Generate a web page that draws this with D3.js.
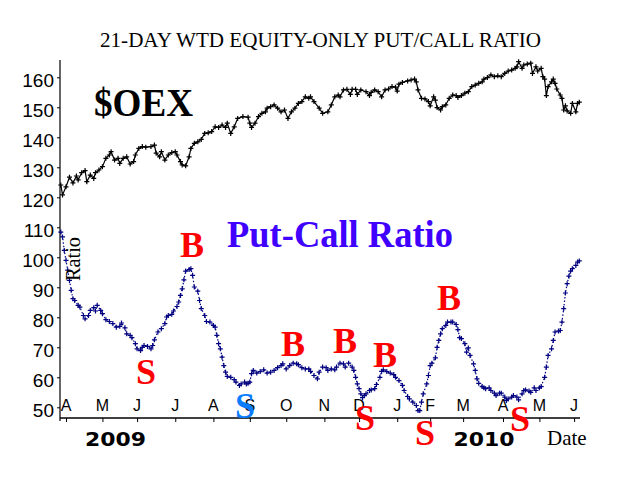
<!DOCTYPE html>
<html>
<head>
<meta charset="utf-8">
<script src="https://cdn.jsdelivr.net/npm/d3@7"></script>
<style>
  html, body { margin: 0; padding: 0; background: #fff; }
  svg { display: block; }
</style>
</head>
<body>
<svg id="chart" width="640" height="480"></svg>
<script>
// ---------- DATA ----------
const monthTickDays = [3, 24, 44, 66, 88, 109, 130, 152, 172, 194, 213, 232, 255, 276, 296];
const monthLabels = ["A", "M", "J", "J", "A", "S", "O", "N", "D", "J", "F", "M", "A", "M", "J"];
const yTickValues = [50, 60, 70, 80, 90, 100, 110, 120, 130, 140, 150, 160];

const oexDays = [0,1,3,5,7,9,10,12,14,15,17,19,20,22,24,26,28,29,31,33,34,36,38,40,42,43,45,47,49,52,54,55,57,58,60,62,64,66,67,69,70,72,74,75,77,79,81,83,85,87,89,91,93,95,96,98,100,102,105,108,109,110,112,114,116,118,119,121,123,125,127,129,131,133,135,137,139,141,143,144,146,149,151,154,156,158,160,161,163,165,167,168,170,171,173,176,178,179,181,183,185,187,189,191,193,194,195,197,200,202,204,205,206,208,210,212,213,215,216,217,219,220,222,224,226,228,229,231,233,235,237,239,241,243,244,246,248,250,252,254,256,258,260,262,263,264,266,267,269,271,272,274,275,277,278,279,280,281,283,284,285,286,288,289,290,291,292,294,295,297,298,299];
const oexValues = [124.1,120.8,123.5,126.7,124.8,127.1,125.8,128.2,128.9,125.2,127.4,126.3,128.2,129.1,130.2,133,134.1,135.2,132.4,133,131.3,133,133.5,131.1,131.9,134.1,136.3,136.9,136.7,136.9,137.4,134.7,133.5,135.2,132.4,134.1,134.9,135.2,134.1,131.9,130.8,130.5,133.5,136.3,138,138.5,139.3,141.3,141.5,141.9,143.5,143.3,144.1,143.3,144.7,141.3,143.5,146.3,146.9,146.7,144.7,143.3,144.7,146.9,148,148.5,149.7,150.2,150.8,149.7,148.5,149.1,146.3,148.5,149.7,151.3,151.9,153.5,153,153.5,151.9,149.7,148,148.5,150.8,153.5,154.1,153.5,155.8,156,154.3,156,156,154.3,155.8,155.2,153.9,155,155.8,155.2,153.5,155.8,156.1,156.9,156.7,155.4,157.7,158.3,158.8,159.1,159.4,158.5,155.8,153,152.8,151.9,150.5,153.5,152.4,149.9,149.1,150.2,150.8,153,154.1,153.9,153.3,153.9,154.7,155.2,156.9,157.4,158,158.5,159.4,159.9,160.8,160.2,160.5,160.2,161.3,162.1,162.4,163,163.5,165.2,163,164.1,164.4,164.7,161.3,163.5,162.1,163,160.2,159.4,153.9,156.9,158.5,159.4,158,156.1,154.1,153,149.1,150.5,148.8,148,151.3,148.5,151.3,151.7];

const pcDays = [0,1,2,3,4,5,6,7,8,10,11,13,14,16,17,19,20,21,23,24,26,28,30,32,34,35,37,38,40,41,43,44,46,47,48,50,52,53,54,56,58,60,61,62,64,65,67,68,69,70,71,72,74,75,76,77,79,80,81,83,84,86,88,89,90,91,92,93,94,95,96,98,100,101,103,104,106,107,108,109,110,111,113,115,117,119,121,123,125,127,128,130,132,134,136,137,139,141,143,144,146,148,149,151,153,154,156,158,159,161,163,164,166,168,169,170,171,172,173,174,175,176,178,179,181,182,184,185,186,188,190,192,193,195,197,198,200,201,203,205,206,207,208,209,211,212,213,214,216,217,218,219,220,222,223,225,226,228,229,230,231,233,234,235,236,238,239,240,241,243,244,245,247,248,250,251,253,254,256,257,258,260,261,263,264,266,267,268,270,271,273,274,276,277,279,280,281,283,284,285,287,288,289,290,291,292,293,294,295,297,298,299];
const pcValues = [108.4,106.8,102.3,99,95.7,92.3,89,86.2,85.6,84,83.4,80.6,79.5,80.6,82.3,83.2,82.1,84,82.3,81.2,79.2,78.6,77.9,76.7,77,78.1,76.5,74.5,74,73.2,71.2,69.5,68.9,70,70.6,70.3,69.5,70.6,72.5,75.1,76.2,77.9,80.1,80.6,81,82.1,83.6,85.1,87.3,89.5,92.5,95.4,95.9,96.2,94,90.1,88.7,85.6,82.9,80.6,78.6,78.4,77.3,76.7,74,71.2,69.5,66.7,63.9,61.7,60.3,60,59.2,58.4,57.3,57.8,58.4,57.8,58,58.4,61.2,62.3,61.4,61.9,62.5,61.4,61.7,62.3,63.2,63.9,64.5,62.8,63.9,64.7,64.5,64.2,63.2,62.8,62.8,62,60.6,59.5,61.7,63.4,63.2,62.3,62.8,62.5,63.4,64.7,64.5,63.4,64.7,63.4,62.3,60,57.8,56.2,54.5,53.2,53.9,54.5,55.6,55.8,56.2,57.6,60,62,62.5,61.9,61.4,60.9,60,58.9,57.3,55.6,53.6,52.8,51.7,50.6,48.9,48.9,51.7,54.5,57.8,60.6,63.9,64.7,66.5,70,72.3,74.5,76.2,77.3,78.4,78.4,78.4,77.6,75.9,73.2,72.9,71.2,68.4,69.8,67.3,64.5,62.3,59.5,58,56.9,56.5,56.2,56.5,55.6,54.7,53.9,54.7,54.7,53.4,52.3,52.8,53.4,53.9,53.4,52.5,54.5,55.6,55.8,55.4,55,56.5,55.6,56.5,56.9,60,63.4,67.3,69.5,72.3,75.1,75.4,75.6,78.4,82.9,88.1,91.2,93.7,95.4,96.2,97.3,98.4,98.8];

const signalTypes = ["B", "S", "S", "B", "B", "B", "S", "S", "B", "S"];
const signalDays = [75.7, 49.1, 106.2, 133.9, 163.9, 187, 175.4, 210, 223.9, 264.8];
const signalLevels = [100.0, 57.9, 46.3, 67.1, 68.1, 63.4, 42.6, 37.6, 82.6, 42.0];
const signalColors = ["#ff0000", "#ff0000", "#0a7cff", "#ff0000", "#ff0000", "#ff0000", "#ff0000", "#ff0000", "#ff0000", "#ff0000"];

const yearLabels = ["2009", "2010"];
const yearDays = [31.5, 244];

// ---------- CHART ----------
const svg = d3.select("#chart");
const x = d3.scaleLinear().domain([0, 299]).range([60.8, 579.3]);
const y = d3.scaleLinear().domain([50, 160]).range([407.3, 77.3]);
const axisTop = 60, axisBottom = 418, axisLeft = 60, axisRight = 580;
const thinFont = "'Liberation Sans', Arial, sans-serif";
const serif = "'Liberation Serif', 'Times New Roman', serif";

// title
svg.append("text")
  .attr("x", 100).attr("y", 47)
  .attr("textLength", 441).attr("lengthAdjust", "spacingAndGlyphs")
  .style("font-family", serif).style("font-size", "21px").attr("fill", "#000")
  .text("21-DAY WTD EQUITY-ONLY PUT/CALL RATIO");

// y axis
const yAxis = d3.axisLeft(y).tickValues(yTickValues).tickSize(3).tickPadding(3).tickFormat(d3.format("d"));
const gy = svg.append("g").attr("transform", `translate(${axisLeft},0)`).call(yAxis);
gy.select(".domain").remove();
gy.selectAll(".tick line").attr("stroke", "#000");
gy.selectAll(".tick text")
  .attr("dy", "9.5").attr("fill", "#000")
  .style("font-family", thinFont).style("font-size", "19px").style("font-weight", "300");

svg.append("line").attr("x1", axisLeft).attr("x2", axisLeft).attr("y1", axisTop).attr("y2", axisBottom + 3)
  .attr("stroke", "#000").attr("stroke-width", 1.2);

// x axis
const xAxis = d3.axisBottom(x).tickValues(monthTickDays).tickSize(4).tickFormat("");
const gx = svg.append("g").attr("transform", `translate(0,${axisBottom})`).call(xAxis);
gx.select(".domain").remove();
gx.selectAll(".tick line").attr("stroke", "#000");
svg.append("line").attr("x1", axisLeft).attr("x2", axisRight).attr("y1", axisBottom).attr("y2", axisBottom)
  .attr("stroke", "#000").attr("stroke-width", 1.5);

svg.append("g").selectAll("text").data(monthLabels).join("text")
  .attr("x", (d, i) => x(monthTickDays[i]))
  .attr("y", 411)
  .attr("text-anchor", "middle")
  .style("font-family", thinFont).style("font-size", "16px").style("font-weight", "300")
  .attr("fill", "#000")
  .text(d => d);

// series
const oex = oexDays.map((d, i) => ({ d, v: oexValues[i] }));
const pc = pcDays.map((d, i) => ({ d, v: pcValues[i] }));
const line = d3.line().x(p => x(p.d)).y(p => y(p.v));
const plus = "M-2.5,0H2.5M0,-2.5V2.5";

svg.append("path").datum(oex).attr("d", line)
  .attr("fill", "none").attr("stroke", "#000").attr("stroke-width", 1.2);
svg.append("g").selectAll("path").data(oex).join("path")
  .attr("transform", p => `translate(${x(p.d)},${y(p.v)})`)
  .attr("d", plus).attr("stroke", "#000").attr("stroke-width", 1.2).attr("fill", "none");

svg.append("path").datum(pc).attr("d", line)
  .attr("fill", "none").attr("stroke", "#000080").attr("stroke-width", 1.2)
  .attr("stroke-dasharray", "1.5,2");
svg.append("g").selectAll("path").data(pc).join("path")
  .attr("transform", p => `translate(${x(p.d)},${y(p.v)})`)
  .attr("d", plus).attr("stroke", "#000080").attr("stroke-width", 1.2).attr("fill", "none");

// labels
svg.append("text").attr("x", 94).attr("y", 116)
  .attr("textLength", 99).attr("lengthAdjust", "spacingAndGlyphs")
  .style("font-family", serif).style("font-weight", "bold").style("font-size", "39px")
  .attr("fill", "#000").text("$OEX");

svg.append("text").attr("x", 227).attr("y", 247)
  .attr("textLength", 226).attr("lengthAdjust", "spacingAndGlyphs")
  .style("font-family", serif).style("font-weight", "bold").style("font-size", "37px")
  .attr("fill", "#4000ff").text("Put-Call Ratio");

svg.append("text").attr("transform", "translate(80,281) rotate(-90)")
  .attr("textLength", 44).attr("lengthAdjust", "spacingAndGlyphs")
  .style("font-family", serif).style("font-size", "20px")
  .attr("fill", "#000").text("Ratio");

// signals
svg.append("g").selectAll("text").data(signalTypes).join("text")
  .attr("x", (d, i) => x(signalDays[i]))
  .attr("y", (d, i) => y(signalLevels[i]))
  .attr("text-anchor", "middle")
  .style("font-family", serif).style("font-weight", "bold").style("font-size", "36px")
  .attr("fill", (d, i) => signalColors[i])
  .text(d => d);

// years and date label
svg.append("g").selectAll("text").data(yearLabels).join("text")
  .attr("x", (d, i) => x(yearDays[i]))
  .attr("y", 446)
  .attr("text-anchor", "middle")
  .attr("textLength", 61).attr("lengthAdjust", "spacingAndGlyphs")
  .style("font-family", "'DejaVu Sans', sans-serif").style("font-weight", "bold").style("font-size", "19px")
  .attr("fill", "#000").text(d => d);

svg.append("text").attr("x", 547).attr("y", 445)
  .style("font-family", serif).style("font-size", "21px")
  .attr("fill", "#000").text("Date");
</script>
</body>
</html>
